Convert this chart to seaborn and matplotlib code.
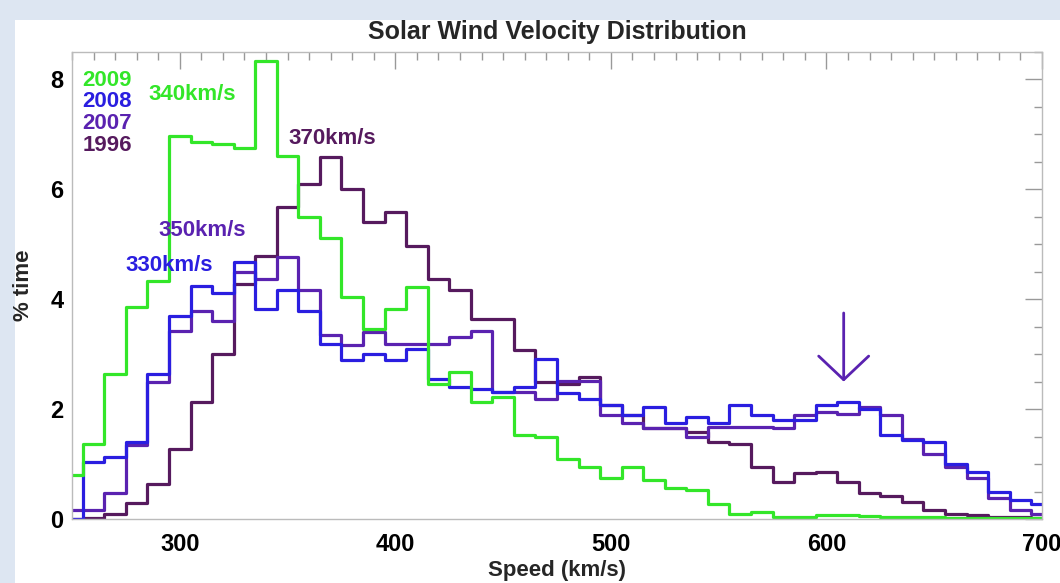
import matplotlib
matplotlib.use("Agg")
import matplotlib.pyplot as plt
import matplotlib.patches as mpatches
from matplotlib.ticker import MultipleLocator
import seaborn as sns
import numpy as np
import pandas as pd

# === Datos: histogramas de velocidad (centros de bin cada 10 km/s) ===
speed = list(range(250, 701, 10))

y1996 = [0.0, 0.02, 0.1, 0.3, 0.64, 1.28, 2.13, 3.0, 4.28, 4.79,
         5.67, 6.1, 6.58, 6.0, 5.4, 5.58, 4.97, 4.37, 4.16, 3.64,
         3.64, 3.07, 2.5, 2.45, 2.58, 2.07, 1.9, 1.65, 1.65, 1.58,
         1.4, 1.37, 0.95, 0.68, 0.83, 0.86, 0.68, 0.47, 0.41, 0.31,
         0.16, 0.1, 0.07, 0.04, 0.03, 0.02]

y2007 = [0.16, 0.16, 0.47, 1.34, 2.49, 3.43, 3.79, 3.61, 4.49, 4.37,
         4.76, 4.16, 3.34, 3.16, 3.4, 3.19, 3.19, 3.19, 3.31, 3.43,
         2.31, 2.31, 2.19, 2.52, 2.52, 1.89, 1.74, 1.65, 1.65, 1.49,
         1.68, 1.68, 1.68, 1.65, 1.89, 1.95, 1.92, 2.04, 1.89, 1.46,
         1.19, 0.95, 0.74, 0.38, 0.16, 0.1]

y2008 = [0.0, 1.04, 1.13, 1.4, 2.64, 3.7, 4.25, 4.11, 4.67, 3.82,
         4.16, 3.79, 3.19, 2.89, 3.0, 2.89, 3.1, 2.55, 2.4, 2.37,
         2.31, 2.4, 2.92, 2.3, 2.19, 2.07, 1.89, 2.04, 1.74, 1.86,
         1.74, 2.07, 1.89, 1.8, 1.8, 2.07, 2.13, 2.01, 1.52, 1.43,
         1.4, 1.01, 0.86, 0.5, 0.34, 0.28]

y2009 = [0.8, 1.37, 2.64, 3.85, 4.34, 6.97, 6.87, 6.82, 6.75, 8.33,
         6.61, 5.49, 5.12, 4.04, 3.46, 3.82, 4.22, 2.46, 2.67, 2.13,
         2.22, 1.52, 1.49, 1.1, 0.95, 0.74, 0.95, 0.71, 0.56, 0.53,
         0.28, 0.1, 0.13, 0.04, 0.04, 0.07, 0.08, 0.05, 0.04, 0.03,
         0.03, 0.02, 0.02, 0.02, 0.02, 0.02]

years = ["1996", "2007", "2008", "2009"]
colores = {"2009": "#33e629", "2008": "#2a1ee0", "2007": "#5a22b0", "1996": "#561a5e"}

df = pd.DataFrame({
    "speed": speed * 4,
    "pct": y1996 + y2007 + y2008 + y2009,
    "year": sum([[y] * len(speed) for y in years], []),
})

# === Figura ===
sns.set_style("white")
plt.rcParams["font.family"] = ["Liberation Sans", "DejaVu Sans"]
plt.rcParams["font.weight"] = "bold"

fig = plt.figure(figsize=(10.6, 5.83), dpi=100)
fig.patch.set_facecolor("#dde6f2")
fig.patches.append(mpatches.Rectangle((15 / 1060, 0), 1, 563 / 583, transform=fig.transFigure,
                                      facecolor="white", edgecolor="none", zorder=-10))
ax = fig.add_axes([72 / 1060, 1 - 519 / 583, 970 / 1060, 467 / 583])
ax.set_zorder(1)

for y in years:
    sns.lineplot(data=df[df["year"] == y], x="speed", y="pct", color=colores[y],
                 drawstyle="steps-mid", linewidth=2.3, ax=ax, legend=False,
                 estimator=None)

ax.set_xlim(250, 700)
ax.set_ylim(0, 8.5)
ax.xaxis.set_major_locator(MultipleLocator(100))
ax.xaxis.set_minor_locator(MultipleLocator(10))
ax.yaxis.set_major_locator(MultipleLocator(2))
ax.yaxis.set_minor_locator(MultipleLocator(0.5))
ax.tick_params(which="both", direction="in", top=True, right=True, colors="#999999",
               labelcolor="black", labelsize=17, width=1)
ax.tick_params(which="major", length=12)
ax.tick_params(which="minor", length=6)
ax.tick_params(axis="x", which="major", pad=10)
ax.tick_params(axis="y", which="major", pad=6)
for s in ax.spines.values():
    s.set_color("#bbbbbb")
    s.set_linewidth(1)
for lbl in ax.get_xticklabels() + ax.get_yticklabels():
    lbl.set_fontweight("bold")

ax.set_xlabel("Speed (km/s)", fontsize=16, fontweight="bold", labelpad=3)
ax.set_ylabel("% time", fontsize=16, fontweight="bold", labelpad=12)
ax.set_title("Solar Wind Velocity Distribution", fontsize=18, fontweight="bold", pad=9)

# Leyenda como texto de colores
for i, y in enumerate(["2009", "2008", "2007", "1996"]):
    ax.text(0.011, 0.94 - i * 0.0465, y, transform=ax.transAxes, color=colores[y],
            fontsize=16, fontweight="bold", va="center", ha="left")

# Etiquetas de picos
ax.text(285.5, 7.73, "340km/s", color=colores["2009"], fontsize=16, fontweight="bold", va="center")
ax.text(350.3, 6.93, "370km/s", color=colores["1996"], fontsize=16, fontweight="bold", va="center")
ax.text(290, 5.25, "350km/s", color=colores["2007"], fontsize=16, fontweight="bold", va="center")
ax.text(274.8, 4.61, "330km/s", color=colores["2008"], fontsize=16, fontweight="bold", va="center")

# Flecha
ax.annotate("", xy=(608, 2.45), xytext=(608, 3.8),
            arrowprops=dict(arrowstyle="->,head_length=1.7,head_width=1.8",
                            mutation_scale=10, color=colores["2007"], lw=2))

plt.savefig("out.png", dpi=100, facecolor=fig.get_facecolor())
